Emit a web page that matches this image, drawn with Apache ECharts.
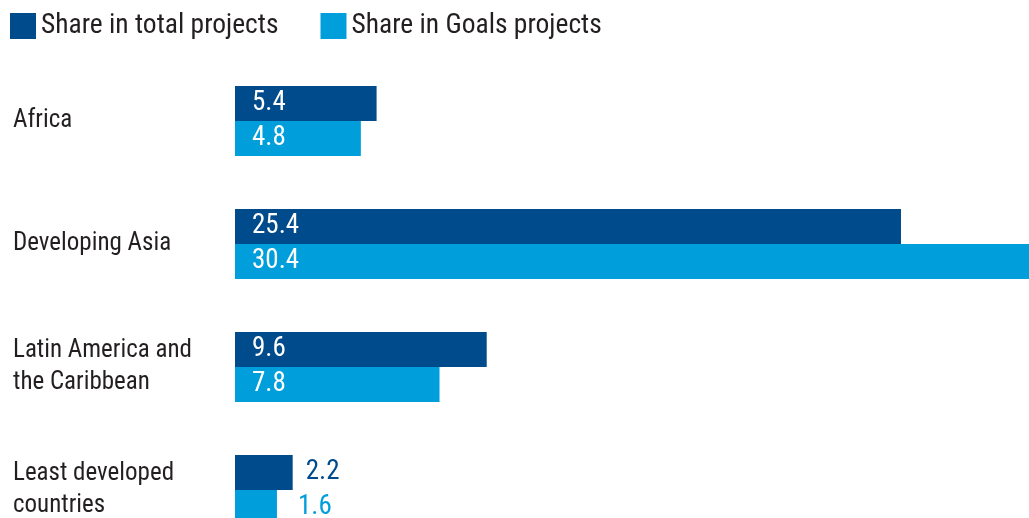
<!DOCTYPE html>
<html>
<head>
<meta charset="utf-8">
<script src="https://cdn.jsdelivr.net/npm/echarts@6/dist/echarts.min.js"></script>
<style>html,body{margin:0;padding:0;background:#fff;}#c{width:1029px;height:518px;}</style>
</head>
<body>
<div id="c"></div>
<script>
const categories = ['Africa', 'Developing Asia', 'Latin America and\nthe Caribbean', 'Least developed\ncountries'];
const totalShare = [5.4, 25.4, 9.6, 2.2];
const goalsShare = [4.8, 30.4, 7.8, 1.6];
const seriesNames = ['Share in total projects', 'Share in Goals projects'];

const DARK = '#004b8b';
const LIGHT = '#009edb';
const FONT = '"Liberation Sans Narrow", "Arial Narrow", "Roboto Condensed", sans-serif';

function buildData(values, color, outsideDist) {
  return values.map(v => v < 4 ? {
    value: v,
    label: { position: 'right', color: color, distance: outsideDist }
  } : v);
}

const chart = echarts.init(document.getElementById('c'));
chart.setOption({
  animation: false,
  textStyle: { fontFamily: FONT },
  legend: {
    left: 5, top: 7,
    itemWidth: 26, itemHeight: 26, itemGap: 42,
    icon: 'rect',
    textStyle: { fontFamily: FONT, fontSize: 27.5, color: '#231f20', padding: [4, 0, 0, 0] },
    data: seriesNames
  },
  grid: { left: 235, top: 59.5, height: 492, width: 1048.8, containLabel: false, outerBoundsMode: 'none' },
  xAxis: { type: 'value', min: 0, max: 40, show: false },
  yAxis: {
    type: 'category', inverse: true, data: categories,
    axisLine: { show: false }, axisTick: { show: false },
    axisLabel: {
      align: 'left', margin: 222, fontFamily: FONT, fontSize: 25,
      color: '#231f20', lineHeight: 32, padding: [5, 0, 0, 0]
    }
  },
  series: [
    {
      name: seriesNames[0], type: 'bar', barWidth: 35, barGap: '0%',
      itemStyle: { color: DARK },
      label: { show: true, position: 'insideLeft', distance: 17, color: '#fff', fontFamily: FONT, fontSize: 27, padding: [4, 0, 0, 0] },
      data: buildData(totalShare, DARK, 13)
    },
    {
      name: seriesNames[1], type: 'bar', barWidth: 35, barGap: '0%',
      itemStyle: { color: LIGHT },
      label: { show: true, position: 'insideLeft', distance: 17, color: '#fff', fontFamily: FONT, fontSize: 27, padding: [4, 0, 0, 0] },
      data: buildData(goalsShare, LIGHT, 21)
    }
  ]
});
</script>
</body>
</html>
